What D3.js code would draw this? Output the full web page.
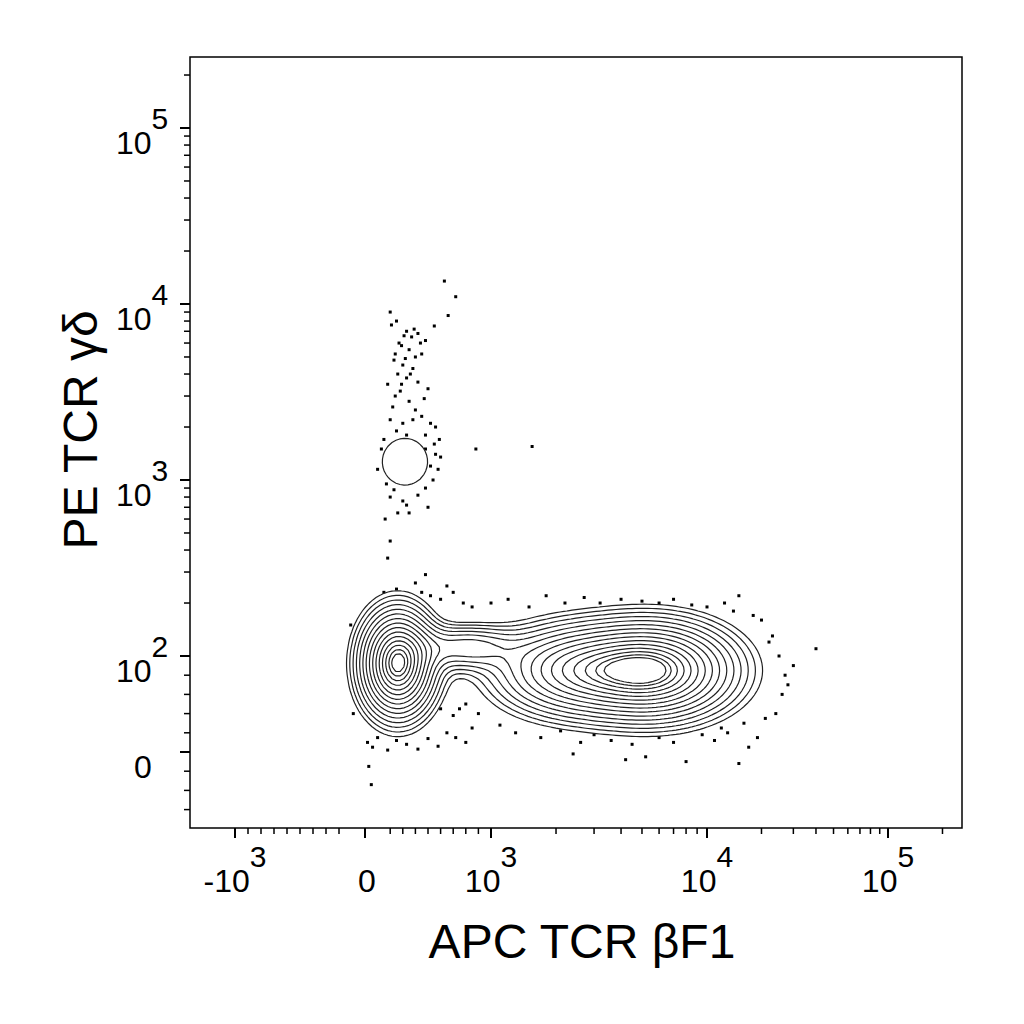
<!DOCTYPE html>
<html><head><meta charset="utf-8">
<script src="https://cdn.jsdelivr.net/npm/d3@7"></script>
<style>body{margin:0;background:#fff}</style></head>
<body><svg id="c" width="1024" height="1024"></svg>
<script>
// ---- data ----
const xMajorTicks = [-1000, 0, 1000, 10000, 100000];
const xTickLabels = [["-10","3"],["0",""],["10","3"],["10","4"],["10","5"]];
const yMajorTicks = [0, 100, 1000, 10000, 100000];
const yTickLabels = [["0",""],["10","2"],["10","3"],["10","4"],["10","5"]];
const xTitle = "APC TCR βF1";
const yTitle = "PE  TCR γδ";
// population components: center [x,y], ±1 sigma bounds [xlo,xhi,ylo,yhi], weight
const popCenters = [[260,92],[5600,85],[2300,85],[800,112],[317,1270]];
const popBounds = [[95,440,55,128],[3400,9300,55,118],[1250,3300,56,115],[560,1050,92,128],[56,580,820,2000]];
const popWeights = [1,0.95,0.55,0.3,0.08];
const outlierEvents = [
[200,9000],[250,8000],[330,7000],[370,6500],[420,6800],[480,6200],[550,7500],[290,5800],[350,5500],[400,5000],[450,5200],[230,4800],[300,4500],[380,4300],[260,4000],[330,3800],[420,3600],[180,3500],[280,3200],[500,3300],[350,2800],[220,2600],[400,2500],[450,2300],[300,2100],[560,2000],[250,1900],[480,1800],[150,1700],[550,1600],[560,1400],[520,1200],[150,1300],[100,1150],[540,1000],[170,950],[200,800],[300,760],[420,820],[500,700],[160,600],[260,650],[330,720],[600,1350],[480,1500],[660,8600],[720,11000],[880,1500],[1550,1550],[200,450],[180,360],[390,7200],[270,6000],[630,13500],
[210,7600],[310,6600],[440,6000],[240,5200],[320,4900],[360,4000],[290,3500],[240,3000],[470,2900],[380,2200],[200,2200],[520,2100],[330,1800],[590,1700],[130,1500],[580,1150],[230,880],[480,900],[350,650],
[80,200],[150,230],[250,240],[400,260],[450,230],[520,220],[600,210],[700,230],[780,200],[850,190],[650,250],[480,290],[350,220],
[-110,150],[-100,80],[-90,40],[-80,110],
[20,10],[60,5],[100,15],[180,2],[250,12],[330,8],[420,3],[500,14],[580,6],[650,20],[720,15],[800,10],[50,-34],[30,-15],[850,25],[900,40],[750,45],
[600,45],[700,38],[800,50],
[1000,200],[1200,210],[1500,190],[1800,220],[2200,200],[2700,215],[3200,200],[4000,210],[5000,205],[6000,200],[7000,210],[8500,195],[10000,190],[12500,200],[15000,220],[18000,170],[14000,180],[20000,160],
[22000,120],[25000,100],[27000,80],[30000,90],[26000,60],[24000,40],[23000,130],[40000,110],[28000,70],
[1300,20],[1700,15],[2100,22],[2600,10],[3000,18],[3600,12],[4500,8],[5200,-5],[6000,15],[7000,10],[8000,-10],[9500,18],[11000,12],[13000,20],[15000,-12],[17000,5],[19000,15],[12000,25],[16000,30],[21000,35],[4200,-8],[2400,-2],[1100,28]
];

// ---- scales (biexponential-like) ----
const L = 190, R = 962, T = 57, B = 828;
function fx(v){ return v >= 1000 ? Math.log10(v) : 3 + (v-1000)/1000*(126/216); }
function fy(v){ return v >= 100 ? Math.log10(v) : 2 + (v-100)/100*(96/176); }
const xLin = d3.scaleLinear().domain([fx(-1000), fx(0), 3, 4, 5]).range([235, 365, 491, 707, 888]);
const yLin = d3.scaleLinear().domain([fy(0), 2, 3, 4, 5]).range([752, 656, 480, 304, 128]);
const x = v => xLin(fx(v));
const y = v => yLin(fy(v));

const svg = d3.select("#c");
const font = "Liberation Sans, Arial, sans-serif";

// ---- density grid ----
const cell = 4;
const nx = Math.ceil((R-L)/cell), ny = Math.ceil((B-T)/cell);
const comps = popCenters.map((c,i) => ({
  cx: x(c[0]), cy: y(c[1]),
  sx: (x(popBounds[i][1]) - x(popBounds[i][0]))/2,
  sy: (y(popBounds[i][2]) - y(popBounds[i][3]))/2,
  w: popWeights[i]
}));
const grid = new Float64Array(nx*ny);
for (let j=0;j<ny;j++) for (let i=0;i<nx;i++){
  const px = L + (i+0.5)*cell, py = T + (j+0.5)*cell;
  let s = 0;
  for (const c of comps){
    const dx=(px-c.cx)/c.sx, dy=(py-c.cy)/c.sy;
    s += c.w*Math.exp(-0.5*(dx*dx+dy*dy));
  }
  grid[j*nx+i]=s;
}
const thr = d3.range(15).map(k => { const r = 2.35 - k*0.15; return Math.exp(-0.5*r*r); });
const contours = d3.contours().size([nx,ny]).thresholds(thr)(grid);
const path = d3.geoPath(d3.geoTransform({point:function(a,b){ this.stream.point(L + a*cell, T + b*cell); }}));

// ---- dots ----
const plot = svg.append("g");
plot.selectAll("rect.dot").data(outlierEvents).join("rect")
  .attr("x", d=>x(d[0])-1.5).attr("y", d=>y(d[1])-1.5).attr("width",3).attr("height",3).attr("fill","#000");
// ---- contours ----
plot.append("path").attr("d", path(contours[0])).attr("fill","#fff").attr("stroke","none");
plot.selectAll("path.c").data(contours).join("path").attr("class","c")
  .attr("d", path).attr("fill","none").attr("stroke","#222").attr("stroke-width",1.2);

// ---- frame ----
svg.append("rect").attr("x",L).attr("y",T).attr("width",R-L).attr("height",B-T)
  .attr("fill","none").attr("stroke","#000").attr("stroke-width",1.5);

// ---- ticks ----
function decadeMinor(){
  const out=[];
  for (let e=2;e<=5;e++) for (let m=2;m<=9;m++) out.push(m*Math.pow(10,e));
  return out;
}
const ax = svg.append("g");
xMajorTicks.forEach(v=>{ ax.append("line").attr("x1",x(v)).attr("x2",x(v)).attr("y1",B).attr("y2",B+10).attr("stroke","#000").attr("stroke-width",2); });
const xMinor = decadeMinor().filter(v=>v>=1000 && v<=200000).concat([200,300,400,500,600,700,800,900,-200,-300,-400,-500,-600,-700,-800,-900]);
xMinor.forEach(v=>{ const p=x(v); if(p<R) ax.append("line").attr("x1",p).attr("x2",p).attr("y1",B).attr("y2",B+6).attr("stroke","#000").attr("stroke-width",1.5); });
yMajorTicks.forEach(v=>{ ax.append("line").attr("x1",L-10).attr("x2",L).attr("y1",y(v)).attr("y2",y(v)).attr("stroke","#000").attr("stroke-width",2); });
const yMinor = decadeMinor().filter(v=>v<=200000).concat([-20,-40,-60,-80,20,40,60,80]);
yMinor.forEach(v=>{ const p=y(v); if(p>T && p<B) ax.append("line").attr("x1",L-6).attr("x2",L).attr("y1",p).attr("y2",p).attr("stroke","#000").attr("stroke-width",1.5); });

xMajorTicks.forEach((v,i)=>{
  const t = ax.append("text").attr("x", x(v) + (xTickLabels[i][1] ? 0 : 2)).attr("y", B+64)
    .attr("text-anchor","middle").attr("font-family",font).attr("font-size",32);
  t.append("tspan").text(xTickLabels[i][0]);
  if (xTickLabels[i][1]) t.append("tspan").attr("dy",-25).attr("font-size",30).text(xTickLabels[i][1]);
});
yMajorTicks.forEach((v,i)=>{
  const t = ax.append("text").attr("x", yTickLabels[i][1] ? 116 : 134).attr("y", y(v)+26)
    .attr("font-family",font).attr("font-size",32);
  t.append("tspan").text(yTickLabels[i][0]);
  if (yTickLabels[i][1]) t.append("tspan").attr("dy",-25).attr("font-size",30).text(yTickLabels[i][1]);
});
svg.append("text").attr("x",582).attr("y",958).attr("text-anchor","middle")
  .attr("font-family",font).attr("font-size",48).text(xTitle);
svg.append("text").attr("transform","translate(97,430) rotate(-90)").attr("text-anchor","middle")
  .attr("font-family",font).attr("font-size",48).text(yTitle);
</script></body></html>
